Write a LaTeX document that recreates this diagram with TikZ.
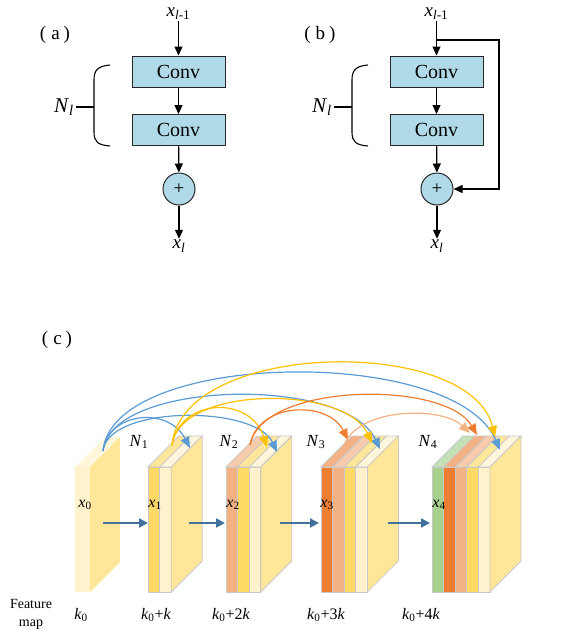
\documentclass[tikz,border=0pt]{standalone}
\usepackage{fontspec}
\setmainfont{Liberation Serif}
\usetikzlibrary{arrows.meta}
\definecolor{convblue}{HTML}{B1DAE8}
\definecolor{cream}{HTML}{FFF2CC}
\definecolor{creamtop}{HTML}{FFF6DC}
\definecolor{sideyel}{HTML}{FFE699}
\definecolor{dyel}{HTML}{FFD966}
\definecolor{salmon}{HTML}{F4B183}
\definecolor{salmontop}{HTML}{F8CBAD}
\definecolor{orng}{HTML}{ED7D31}
\definecolor{grn}{HTML}{A9D18E}
\definecolor{grntop}{HTML}{C5E0B4}
\definecolor{edge}{HTML}{C8C8C8}
\definecolor{cblue}{HTML}{5B9BD5}
\definecolor{cgold}{HTML}{FFC000}
\definecolor{corange}{HTML}{ED7D31}
\definecolor{csalmon}{HTML}{F4B183}
\definecolor{harrow}{HTML}{41719C}
\def\W{11.6}
\def\D{31}
\newcommand\fstrip[4]{%
  \filldraw[fill=#3,draw=edge,line width=0.8pt] ({#1+#2*\W},467) rectangle ({#1+(#2+1)*\W},592);
  \filldraw[fill=#4,draw=edge,line width=0.8pt] ({#1+#2*\W},467) -- ({#1+(#2+1)*\W},467) -- ({#1+(#2+1)*\W+\D},436) -- ({#1+#2*\W+\D},436) -- cycle;}
\newcommand\fside[2]{%
  \filldraw[fill=sideyel,draw=edge,line width=0.8pt] ({#1+#2*\W},467) -- ({#1+#2*\W+\D},436) -- ({#1+#2*\W+\D},561) -- ({#1+#2*\W},592) -- cycle;}
\newcommand\plab[1]{(\hspace{5pt}#1\hspace{4pt})}
\begin{document}
\begin{tikzpicture}[x=1pt,y=-1pt,
  convbox/.style={draw=black!85,line width=1pt,fill=convblue,minimum width=93pt,minimum height=31pt,inner sep=0pt,font=\fontsize{20}{22}\selectfont},
  plusnode/.style={circle,draw=black!85,line width=1pt,fill=convblue,minimum size=32pt,inner sep=0pt,font=\fontsize{19}{20}\selectfont},
  lab/.style={font=\fontsize{19}{21}\selectfont,inner sep=1pt},
  arr/.style={line width=1.2pt,-{Triangle[length=9pt,width=8pt]}},
  cl/.style={font=\fontsize{16}{18}\selectfont,inner sep=0pt},
  harr/.style={line width=2pt,harrow,-{Triangle[length=9pt,width=9pt]}},
  carr/.style={line width=1.2pt,-{Triangle[length=11pt,width=9pt]}}]
\useasboundingbox (0,0) rectangle (581,632);
% ---------- (a)
\node[lab] (la) at (55,35) {\plab{a}};
\node[lab] (ain) at (178.5,14) {\textit{x}\textsubscript{\textit{l}-1}};
\node[convbox] (a1) at (178.5,71.5) {Conv};
\node[convbox] (a2) at (178.5,130) {Conv};
\node[plusnode] (ap) at (179,189) {+};
\node[lab] (aout) at (179,246) {\textit{x}\textsubscript{\textit{l}}};
\draw[arr] (ain) -- (a1);
\draw[arr] (a1) -- (a2);
\draw[arr] (a2) -- (ap);
\draw[arr] (ap) -- (aout);
\node[font=\fontsize{21}{23}\selectfont,inner sep=2pt] (aN) at (64,107) {\textit{N}\textsubscript{\textit{l}}};
\coordinate (abr) at (94,107);
\draw[line width=1.1pt] (110,65) .. controls (98,66) and (94,70) .. (94,80) -- (94,132) .. controls (94,142) and (98,145) .. (110,146);
\draw[line width=1.1pt] (aN) -- (abr);
% ---------- (b)
\node[lab] (lb) at (320,35) {\plab{b}};
\node[lab] (bin) at (436.5,14) {\textit{x}\textsubscript{\textit{l}-1}};
\node[convbox] (b1) at (436.5,71.5) {Conv};
\node[convbox] (b2) at (436.5,130) {Conv};
\node[plusnode] (bp) at (437,189) {+};
\node[lab] (bout) at (437,246) {\textit{x}\textsubscript{\textit{l}}};
\draw[arr] (bin) -- (b1);
\draw[arr] (b1) -- (b2);
\draw[arr] (b2) -- (bp);
\draw[arr] (bp) -- (bout);
\coordinate (bsplit) at (436.5,40);
\coordinate (bc1) at (499,40);
\coordinate (bc2) at (499,189);
\draw[arr] (bsplit) -- (bc1) -- (bc2) -- (bp);
\node[font=\fontsize{21}{23}\selectfont,inner sep=2pt] (bN) at (322,107) {\textit{N}\textsubscript{\textit{l}}};
\coordinate (bbr) at (352,107);
\draw[line width=1.1pt] (368,65) .. controls (356,66) and (352,70) .. (352,80) -- (352,132) .. controls (352,142) and (356,145) .. (368,146);
\draw[line width=1.1pt] (bN) -- (bbr);
% ---------- (c)
\node[lab] (lc) at (57,340) {\plab{c}};
% x0
\fill[cream] (75,467) rectangle (90,592);
\fill[creamtop] (75,467) -- (90,467) -- (120,437) -- (105,437) -- cycle;
\fill[sideyel] (90,467) -- (120,437) -- (120,562) -- (90,592) -- cycle;
% x1
\fstrip{148}{0}{dyel}{sideyel}
\fstrip{148}{1}{cream}{creamtop}
\fside{148}{2}
% x2
\fstrip{226}{0}{salmon}{salmontop}
\fstrip{226}{1}{dyel}{sideyel}
\fstrip{226}{2}{cream}{creamtop}
\fside{226}{3}
% x3
\fstrip{321}{0}{orng}{salmon}
\fstrip{321}{1}{salmon}{salmontop}
\fstrip{321}{2}{dyel}{sideyel}
\fstrip{321}{3}{cream}{creamtop}
\fside{321}{4}
% x4
\fstrip{432}{0}{grn}{grntop}
\fstrip{432}{1}{orng}{salmon}
\fstrip{432}{2}{salmon}{salmontop}
\fstrip{432}{3}{dyel}{sideyel}
\fstrip{432}{4}{cream}{creamtop}
\fside{432}{5}
% labels
\node[cl] (x0) at (85,505) {\textit{x}\textsubscript{0}};
\node[cl] (x1) at (155,505) {\textit{x}\textsubscript{1}};
\node[cl] (x2) at (233,505) {\textit{x}\textsubscript{2}};
\node[cl] (x3) at (327,505) {\textit{x}\textsubscript{3}};
\node[cl] (x4) at (439,505) {\textit{x}\textsubscript{4}};
\node[cl,font=\fontsize{17}{19}\selectfont] (N1) at (139,442) {\textit{N}\textsubscript{1}};
\node[cl,font=\fontsize{17}{19}\selectfont] (N2) at (229,442) {\textit{N}\textsubscript{2}};
\node[cl,font=\fontsize{17}{19}\selectfont] (N3) at (316,442) {\textit{N}\textsubscript{3}};
\node[cl,font=\fontsize{17}{19}\selectfont] (N4) at (428,442) {\textit{N}\textsubscript{4}};
% horizontal arrows
\coordinate (h0s) at (103,523); \coordinate (h0e) at (148,523);
\coordinate (h1s) at (189,523); \coordinate (h1e) at (225,523);
\coordinate (h2s) at (280,523); \coordinate (h2e) at (319,523);
\coordinate (h3s) at (388,523); \coordinate (h3e) at (430,523);
\draw[harr] (h0s) -- (h0e);
\draw[harr] (h1s) -- (h1e);
\draw[harr] (h2s) -- (h2e);
\draw[harr] (h3s) -- (h3e);
% curve endpoints
\coordinate (s0) at (103,451);
\coordinate (s1) at (172,445);
\coordinate (s2) at (250,445);
\coordinate (s3) at (343,449);
\coordinate (t01) at (190,448);
\coordinate (t02) at (277,452);
\coordinate (t03) at (380,449);
\coordinate (t04) at (500,450);
\coordinate (t12) at (267,447);
\coordinate (t13) at (372,443);
\coordinate (t14) at (495,437);
\coordinate (t23) at (348,440);
\coordinate (t24) at (477,435);
\coordinate (t34) at (470,433);
% curves
\draw[carr,cblue] (s0) .. controls (108,412) and (168,406) .. (t01);
\draw[carr,cblue] (s0) .. controls (108,405) and (255,405) .. (t02);
\draw[carr,cblue] (s0) .. controls (110,380) and (345,375) .. (t03);
\draw[carr,cblue] (s0) .. controls (112,350) and (455,345) .. (t04);
\draw[carr,cgold] (s1) .. controls (180,398) and (250,395) .. (t12);
\draw[carr,cgold] (s1) .. controls (180,385) and (345,385) .. (t13);
\draw[carr,cgold] (s1) .. controls (182,340) and (470,335) .. (t14);
\draw[carr,corange] (s2) .. controls (258,402) and (328,400) .. (t23);
\draw[carr,corange] (s2) .. controls (262,382) and (445,380) .. (t24);
\draw[carr,csalmon] (s3) .. controls (352,408) and (440,405) .. (t34);
% bottom labels
\node[cl,font=\fontsize{14}{18}\selectfont,align=center] (fm) at (31,614) {Feature\\map};
\node[cl] (k0) at (81,615) {\textit{k}\textsubscript{0}};
\node[cl] (k1) at (156,615) {\textit{k}\textsubscript{0}+\textit{k}};
\node[cl] (k2) at (231,615) {\textit{k}\textsubscript{0}+2\textit{k}};
\node[cl] (k3) at (326,615) {\textit{k}\textsubscript{0}+3\textit{k}};
\node[cl] (k4) at (421,615) {\textit{k}\textsubscript{0}+4\textit{k}};
\end{tikzpicture}
\end{document}
